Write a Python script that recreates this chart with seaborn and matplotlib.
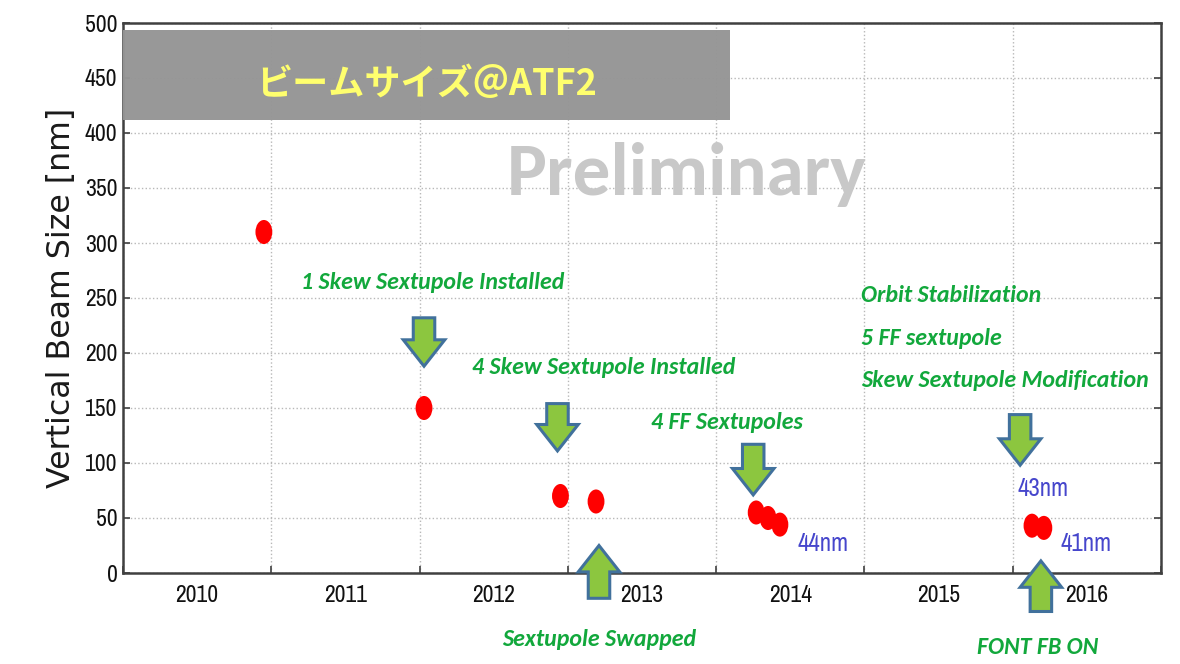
import matplotlib
matplotlib.use("Agg")
import matplotlib.pyplot as plt
import numpy as np
import pandas as pd
import seaborn as sns
from matplotlib.path import Path
from matplotlib.transforms import Affine2D
from matplotlib.patches import FancyArrow, Rectangle

# Measured vertical beam size at ATF2 (date as decimal year, size in nm)
dates = [2010.95, 2012.03, 2012.95, 2013.19, 2014.27, 2014.35, 2014.43, 2016.13, 2016.21]
beam_size = [310, 150, 70, 65, 55, 50, 44, 43, 41]

years = [2010, 2011, 2012, 2013, 2014, 2015, 2016]
y_ticks = [0, 50, 100, 150, 200, 250, 300, 350, 400, 450, 500]

# Milestones: label text, text anchor (x, y), arrow x, arrow start y, arrow end y
milestone_labels = ["1 Skew Sextupole Installed", "4 Skew Sextupole Installed",
                    "4 FF Sextupoles", "Sextupole Swapped", "FONT FB ON"]
milestone_text_x = [2012.09, 2013.24, 2014.07, 2013.21, 2016.17]
milestone_text_y = [264, 187, 137, -60, -68]
milestone_arrow_x = [2012.03, 2012.93, 2014.25, 2013.21, 2016.19]
milestone_arrow_from = [232, 154, 117, -23, -35]
milestone_arrow_to = [188, 111, 71, 25, 11]

upgrade_lines = ["Orbit Stabilization", "5 FF sextupole", "Skew Sextupole Modification"]
upgrade_line_y = [252, 213, 175]
upgrade_arrow = (2016.05, 144, 98)

# Value callouts
value_labels = ["44nm", "43nm", "41nm"]
value_x = [2014.55, 2016.03, 2016.32]
value_y = [27, 77, 27]

NARROW = ["Liberation Sans Narrow", "Archivo Narrow", "DejaVu Sans"]
CALIBRI = ["Carlito", "Lato", "DejaVu Sans"]

sns.set_theme(style="white")
plt.rcParams["font.family"] = NARROW

fig = plt.figure(figsize=(11.8, 6.64), dpi=100)
ax = fig.add_axes([123 / 1180, 1 - 573 / 664, (1161 - 123) / 1180, (573 - 23) / 664])

df = pd.DataFrame({"date": dates, "size": beam_size})
ellipse = Path.unit_circle().transformed(Affine2D().scale(0.7, 1.0))
sns.scatterplot(data=df, x="date", y="size", ax=ax, marker=ellipse, s=300,
                color="#ff0000", edgecolor="none", zorder=5)

ax.set_xlim(2010, 2017)
ax.set_ylim(0, 500)
ax.set_xticks(range(2010, 2018))
ax.set_xticklabels([])
ax.set_xticks([y + 0.5 for y in years], minor=True)
ax.set_xticklabels([str(y) for y in years], minor=True)
ax.set_yticks(y_ticks)
ax.set_yticklabels([str(v) for v in y_ticks])
ax.tick_params(axis="x", which="major", direction="in", length=5, width=1.2,
               color="#404040", top=False, bottom=True)
ax.tick_params(axis="x", which="minor", length=0, pad=9, labelsize=17,
               labelcolor="#111111")
ax.tick_params(axis="y", direction="in", length=5, width=1.2, color="#404040",
               left=True, right=True, labelsize=17, pad=4, labelcolor="#111111")
ax.set_xlabel("")
ax.set_ylabel("Vertical Beam Size [nm]", fontsize=22.8, family=["DejaVu Sans"],
              color="#1a1a1a", va="center")
ax.yaxis.set_label_coords(-0.059, 0.5)
ax.grid(True, which="major", color="#b8b8b8", linestyle=":", linewidth=1.0)
for s in ax.spines.values():
    s.set_color("#404040")
    s.set_linewidth(1.8)

green = "#12a83c"
arrow_face = "#8cc63f"
arrow_edge = "#41719c"


def block_arrow(x, y0, y1):
    a = FancyArrow(x, y0, 0, y1 - y0, width=0.145, head_width=0.28,
                   head_length=24, length_includes_head=True,
                   facecolor=arrow_face, edgecolor=arrow_edge, linewidth=2.2,
                   clip_on=False, zorder=6)
    ax.add_patch(a)


for lab, tx, ty, axx, a0, a1 in zip(milestone_labels, milestone_text_x, milestone_text_y,
                                    milestone_arrow_x, milestone_arrow_from, milestone_arrow_to):
    ax.text(tx, ty, lab, ha="center", va="center", color=green, fontsize=17.2,
            fontweight="bold", fontstyle="italic", family=CALIBRI, clip_on=False)
    block_arrow(axx, a0, a1)

for lab, ly in zip(upgrade_lines, upgrade_line_y):
    ax.text(2014.98, ly, lab, ha="left", va="center", color=green, fontsize=17.2,
            fontweight="bold", fontstyle="italic", family=CALIBRI)
block_arrow(*upgrade_arrow)

for lab, vx, vy in zip(value_labels, value_x, value_y):
    ax.text(vx, vy, lab, ha="left", va="center", color="#4646cc", fontsize=18)

ax.text(2013.8, 344, "Preliminary", ha="center", va="baseline", color="#c8c8c8",
        fontsize=54, fontweight="bold", family=CALIBRI, zorder=1)

fig.add_artist(Rectangle((123 / 1180, 1 - 120 / 664), (730 - 123) / 1180, 90 / 664,
                         transform=fig.transFigure, facecolor="#959595", alpha=0.97,
                         edgecolor="none", zorder=10))
fig.text(427 / 1180, 1 - 84 / 664, "ビームサイズ＠ATF2", ha="center", va="center",
         color="#ffff6e", fontsize=26, fontweight="bold",
         family=["Noto Sans CJK JP", "DejaVu Sans"], zorder=11)

fig.savefig("out.png", dpi=100)
